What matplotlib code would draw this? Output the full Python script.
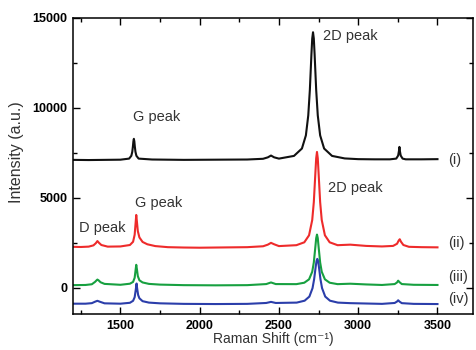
import matplotlib
matplotlib.use('Agg')
import matplotlib.pyplot as plt
from matplotlib.ticker import MultipleLocator

plt.rcParams['font.family'] = ['Liberation Sans', 'DejaVu Sans']

# (i) black spectrum
black_x = [1200, 1300, 1400, 1500, 1555, 1569, 1575, 1579, 1582, 1585, 1588, 1591, 1595, 1601, 1615,
           1700, 1900, 2100, 2300, 2400, 2430, 2450, 2470, 2500, 2595, 2645, 2670, 2685, 2695,
           2705, 2710, 2715, 2720, 2725, 2735, 2745, 2760, 2785, 2835, 2915, 3000, 3100, 3200,
           3240, 3252, 3257, 3260, 3263, 3268, 3280, 3300, 3400, 3500]
black_y = [7110, 7100, 7110, 7120, 7180, 7336, 7560, 7855, 8135, 8280, 8135, 7855, 7560, 7336, 7180,
           7130, 7110, 7120, 7130, 7170, 7250, 7350, 7250, 7180, 7330, 7740, 8470, 9580, 10990,
           12980, 13850, 14200, 13850, 12980, 10990, 9580, 8470, 7740, 7330, 7190, 7150, 7140, 7140,
           7180, 7350, 7600, 7830, 7600, 7350, 7180, 7140, 7140, 7150]

# (ii) red spectrum
red_x = [1200, 1250, 1300, 1330, 1345, 1355, 1365, 1380, 1420, 1500, 1560, 1580, 1590, 1596, 1600,
         1604, 1610, 1620, 1640, 1670, 1720, 1800, 1900, 2000, 2100, 2200, 2300, 2400, 2430, 2450,
         2470, 2500, 2610, 2660, 2690, 2710, 2720, 2730, 2735, 2740, 2745, 2750, 2760, 2770, 2790,
         2820, 2870, 2950, 3050, 3150, 3220, 3245, 3255, 3262, 3270, 3285, 3320, 3400, 3500]
red_y = [2280, 2270, 2290, 2360, 2480, 2600, 2500, 2380, 2290, 2300, 2380, 2560, 2950, 3600, 4050,
         3700, 3150, 2800, 2550, 2420, 2320, 2260, 2240, 2230, 2240, 2250, 2260, 2310, 2400, 2500,
         2420, 2320, 2370, 2530, 2920, 3770, 4760, 6400, 7200, 7550, 7200, 6400, 4760, 3770, 2920,
         2530, 2370, 2400, 2330, 2300, 2330, 2450, 2620, 2700, 2560, 2380, 2280, 2260, 2250]

# (iii) green spectrum
green_x = [1200, 1280, 1320, 1340, 1350, 1355, 1362, 1375, 1400, 1500, 1560, 1580, 1590, 1596, 1600,
           1604, 1610, 1620, 1640, 1680, 1750, 1900, 2100, 2300, 2420, 2450, 2480, 2610, 2660,
           2690, 2710, 2720, 2730, 2735, 2740, 2745, 2750, 2760, 2770, 2790, 2820, 2870, 2950,
           3050, 3150, 3230, 3245, 3252, 3260, 3275, 3350, 3500]
green_y = [150, 160, 200, 330, 420, 460, 420, 310, 220, 170, 230, 330, 560, 1000, 1280,
           1050, 650, 420, 300, 220, 180, 150, 140, 150, 210, 300, 210, 206, 285,
           473, 894, 1410, 2295, 2760, 2960, 2760, 2295, 1410, 894, 473, 285, 206, 230,
           190, 160, 210, 300, 400, 320, 210, 170, 160]

# (iv) blue spectrum
blue_x = [1200, 1280, 1320, 1340, 1355, 1370, 1400, 1500, 1560, 1580, 1590, 1597, 1602, 1606,
          1612, 1620, 1640, 1680, 1750, 1900, 2100, 2300, 2420, 2450, 2480, 2612, 2662, 2692,
          2712, 2722, 2732, 2737, 2742, 2747, 2752, 2762, 2772, 2792, 2822, 2872, 2950, 3050,
          3150, 3230, 3245, 3252, 3260, 3275, 3350, 3500]
blue_y = [-880, -880, -850, -770, -720, -770, -860, -880, -830, -720, -520, -100, 240, -50,
          -400, -580, -740, -820, -860, -890, -900, -890, -840, -780, -840, -820, -714, -485,
          -16, 479, 1181, 1487, 1610, 1487, 1181, 479, -16, -485, -714, -820, -850, -870,
          -890, -840, -760, -690, -760, -850, -890, -900]

series = [
    (black_x, black_y, '#111111', '(i)', 7100),
    (red_x, red_y, '#ee2b2b', '(ii)', 2500),
    (green_x, green_y, '#17a040', '(iii)', 600),
    (blue_x, blue_y, '#2b3eaa', '(iv)', -600),
]

peak_labels = [
    ('G peak', 1578, 9500),
    ('2D peak', 2780, 14000),
    ('D peak', 1240, 3330),
    ('G peak', 1595, 4720),
    ('2D peak', 2810, 5550),
]

fig = plt.figure(figsize=(4.76, 3.5), dpi=100)
ax = fig.add_axes([0.153, 0.103, 0.841, 0.846])

for xs, ys, color, tag, ty in series:
    ax.plot(xs, ys, color=color, linewidth=1.5)
    ax.text(3570, ty, tag, fontsize=10.5, va='center', ha='left', color='#333333')

for txt, tx, ty in peak_labels:
    ax.text(tx, ty, txt, fontsize=10.5, va='center', ha='left', color='#333333')

ax.set_xlim(1200, 3725)
ax.set_ylim(-1450, 15000)
ax.xaxis.set_major_locator(MultipleLocator(500))
ax.xaxis.set_minor_locator(MultipleLocator(250))
ax.yaxis.set_major_locator(MultipleLocator(5000))
ax.yaxis.set_minor_locator(MultipleLocator(2500))
ax.tick_params(which='both', direction='in', top=True, right=True, width=1)
ax.tick_params(which='major', length=5, labelsize=9, pad=4)
ax.tick_params(which='minor', length=3)
for lab in ax.get_xticklabels() + ax.get_yticklabels():
    lab.set_fontweight('bold')
for sp in ax.spines.values():
    sp.set_linewidth(1.1)

ax.set_xlabel('Raman Shift (cm\u207b\u00b9)', fontsize=10, color='#333333')
ax.set_ylabel('Intensity (a.u.)', fontsize=11.5, color='#333333')
ax.xaxis.set_label_coords(0.5, -0.062)
ax.yaxis.set_label_coords(-0.122, 0.545)

fig.savefig('out.png', dpi=100)
